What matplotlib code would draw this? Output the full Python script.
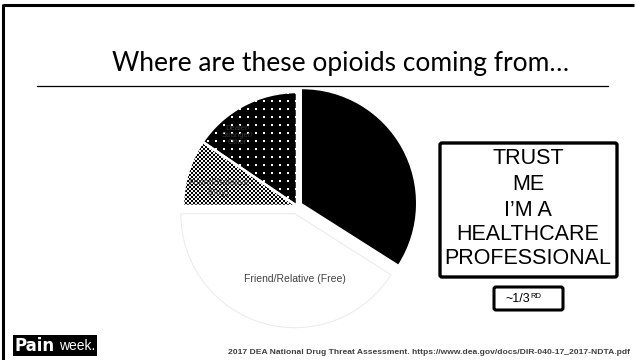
import numpy as np
import matplotlib
matplotlib.use("Agg")
import matplotlib.pyplot as plt
from matplotlib.patches import Rectangle, FancyBboxPatch

# ---- data ----
categories = ["Prescribed by Doctor", "Friend/Relative (Free)", "Friend/Relative\n(Buy)", "Dealer/\nStranger/\nOther"]
shares = [34.0, 41.0, 9.5, 15.5]
title = "Where are these opioids coming from\u2026"
box_lines = ["TRUST", "ME", "I\u2019M A", "HEALTHCARE", "PROFESSIONAL"]
footnote = "2017 DEA National Drug Threat Assessment. https://www.dea.gov/docs/DIR-040-17_2017-NDTA.pdf"

W, H = 636, 360
fig = plt.figure(figsize=(W / 100, H / 100), dpi=100)
fig.patch.set_facecolor("white")

# ---- pie axes (pixel aligned) ----
cx, cy, R, half = 297, 206, 114, 130
pax = fig.add_axes([(cx - half) / W, (H - cy - half) / H, 2 * half / W, 2 * half / H])
L = half / R
wedges, texts = pax.pie(shares, startangle=90, counterclock=False, radius=1.0,
                        explode=[0.05, 0.07, 0.0, 0.0],
                        colors=["black", "white", "white", "white"],
                        wedgeprops=dict(linewidth=0))
pax.set_xlim(-L, L)
pax.set_ylim(-L, L)
pax.set_aspect("auto")
pax.axis("off")

n = 2 * half
ii, jj = np.mgrid[0:n, 0:n]
checker = (((ii // 2) + (jj // 2)) % 2).astype(float) * 0.95
dots = np.zeros((n, n))
dots[((ii % 8) < 2) & ((jj % 8) < 2)] = 1.0

for w, img in [(wedges[2], checker), (wedges[3], dots)]:
    w.set_facecolor("none")
    im = pax.imshow(img, cmap="gray", vmin=0, vmax=1, extent=[-L, L, -L, L],
                    origin="upper", interpolation="nearest", zorder=1)
    im.set_clip_path(w)

wedges[1].set_edgecolor("#ececec")
wedges[1].set_linewidth(0.8)
# white separation between the patterned slices
for w in wedges[2:]:
    w.set_edgecolor("white")
    w.set_linewidth(1.8)
    w.set_zorder(2)

# slice labels
pax.text(0.55, 0.22, categories[0], ha="center", va="center", fontsize=7,
         color="black", family="Liberation Sans", zorder=3)
pax.text(-0.02, -0.64, categories[1], ha="center", va="center", fontsize=7.5,
         color="#404040", family="Liberation Sans", zorder=3)
pax.text(-0.69, 0.16, categories[2], ha="center", va="center", fontsize=6.5,
         color="#505050", family="Liberation Sans", zorder=3, linespacing=1.1)
pax.text(-0.52, 0.62, categories[3], ha="center", va="center", fontsize=5.5,
         color="#3a3a3a", family="Liberation Sans", zorder=3, linespacing=1.0)

# ---- overlay axes in pixel coordinates ----
ax = fig.add_axes([0, 0, 1, 1])
ax.set_xlim(0, W)
ax.set_ylim(H, 0)
ax.axis("off")
ax.patch.set_alpha(0)

# frame lines
ax.plot([3, 634], [5, 5], color="black", lw=2.2, solid_capstyle="butt")
ax.plot([3, 3], [4, 360], color="black", lw=2.2, solid_capstyle="butt")
# rule under the title
ax.plot([37, 608], [86, 86], color="black", lw=0.9)

ax.text(341, 63, title, ha="center", va="center", fontsize=19, family="Lato", color="black")

# TRUST box
ax.add_patch(FancyBboxPatch((440, 143), 177, 134, boxstyle="round,pad=0,rounding_size=2",
                            fill=False, edgecolor="black", lw=2.4))
ys = [158, 184, 210, 235, 259]
for t, y in zip(box_lines, ys):
    ax.text(528, y, t, ha="center", va="center", fontsize=15.5, family="Liberation Sans", color="black")

# small box
ax.add_patch(FancyBboxPatch((494, 287), 69, 23, boxstyle="round,pad=0,rounding_size=2",
                            fill=False, edgecolor="black", lw=2.2))
ax.text(530, 299, "~1/3", ha="right", va="center", fontsize=9, family="Liberation Sans")
ax.text(530.5, 297, "RD", ha="left", va="center", fontsize=5.5, family="Liberation Sans")

# logo
ax.add_patch(Rectangle((13, 335), 84, 21, facecolor="black", edgecolor="none"))
ax.text(14, 346, "Pain", ha="left", va="center", fontsize=12, fontweight="bold",
        family="DejaVu Sans", color="white")
ax.text(59, 346.5, "week.", ha="left", va="center", fontsize=10, fontweight="light",
        family="Liberation Sans", color="white")

ax.text(630, 352, footnote, ha="right", va="center", fontsize=6.1, fontweight="bold",
        family="Liberation Sans", color="#404040")

fig.savefig("out.png", dpi=100, facecolor="white")
